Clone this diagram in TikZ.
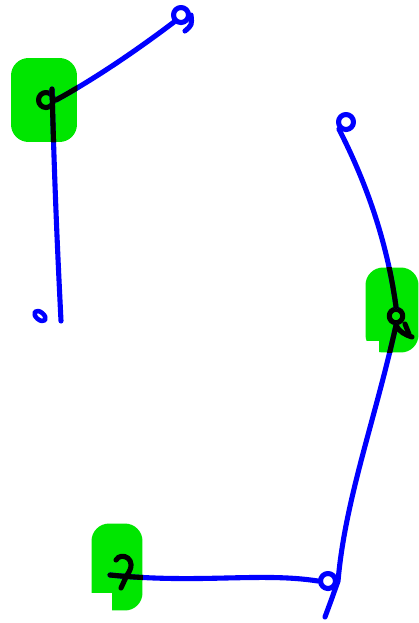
\documentclass[tikz,border=0pt]{standalone}
\usetikzlibrary{positioning, shapes.geometric}
\definecolor{hilite}{RGB}{0,230,0}
% all strokes of the sketch, drawn once in blue and again in black inside the marks
\newcommand{\wires}[1]{%
  \draw[#1] (j1.east) .. controls (100,76) and (145,44) .. (e1.south west);
  \draw[#1] (top1) .. controls (55,200) and (58,260) .. (bot1);
  \draw[#1] (e3.south west) .. controls (365,180) and (387,240) .. (j2.north);
  \draw[#1] (j2.south) .. controls (375,420) and (345,500) .. (j3.east) .. controls (332,598) .. (tail3);
  \draw[#1] (s3) .. controls (200,584) and (260,572) .. (j3.west);
}
\begin{document}
\begin{tikzpicture}[x=0.02cm, y=-0.02cm, line cap=round, line join=round,
  ink/.style={draw=blue, line width=2.9pt},
  pen/.style={draw=black, line width=2.9pt},
  blob/.style={fill=hilite, rounded corners=10pt, inner sep=0pt},
  knot/.style={circle, draw=blue, line width=2.9pt, minimum size=0.3cm, inner sep=0pt}]
  \useasboundingbox (0,0) rectangle (419,623);
  % green marks
  \node[blob, minimum width=1.32cm, minimum height=1.68cm] (hub1) at (44,100) {};
  \node[blob, minimum width=1.06cm, minimum height=1.70cm] (hub2) at (392,310) {};
  \node[blob, minimum width=1.02cm, minimum height=1.74cm] (hub3) at (117,567) {};
  \fill[white] (365,341) rectangle (379,355);
  \fill[white] (90,593) rectangle (112,612);
  % loops
  \node[knot, draw=black] (j1) at (46,100) {};
  \node[knot] (e1) at (181,15) {};
  \node[knot] (e3) at (346,122) {};
  \node[knot, draw=black, minimum size=0.27cm] (j2) at (396,316) {};
  \node[knot] (j3) at (328,581) {};
  \node[ellipse, draw=blue, line width=2.6pt, minimum width=0.26cm, minimum height=0.15cm, inner sep=0pt, rotate=-40] (e2) at (40,316) {};
  \coordinate (top1) at (52,89);
  \coordinate (bot1) at (61,321);
  \coordinate (tail1) at (185,31);
  \coordinate (tail3) at (325,617);
  \coordinate (s3) at (110,575);
  \draw[ink] (e1.east) .. controls (192,25) .. (tail1);
  \wires{ink}
  \foreach \h in {hub1,hub2,hub3} {
    \begin{scope}
      \clip[rounded corners=10pt] (\h.south west) rectangle (\h.north east);
      \wires{pen}
    \end{scope}
  }
  \draw[pen] (j2.south) .. controls (399,332) and (406,335) .. (412,337);
  \draw[pen] (405,324) -- (409,334);
  \draw[pen] (116,560) .. controls (121,551) and (139,559) .. (127,575) .. controls (124,581) .. (121,588);
\end{tikzpicture}
\end{document}
